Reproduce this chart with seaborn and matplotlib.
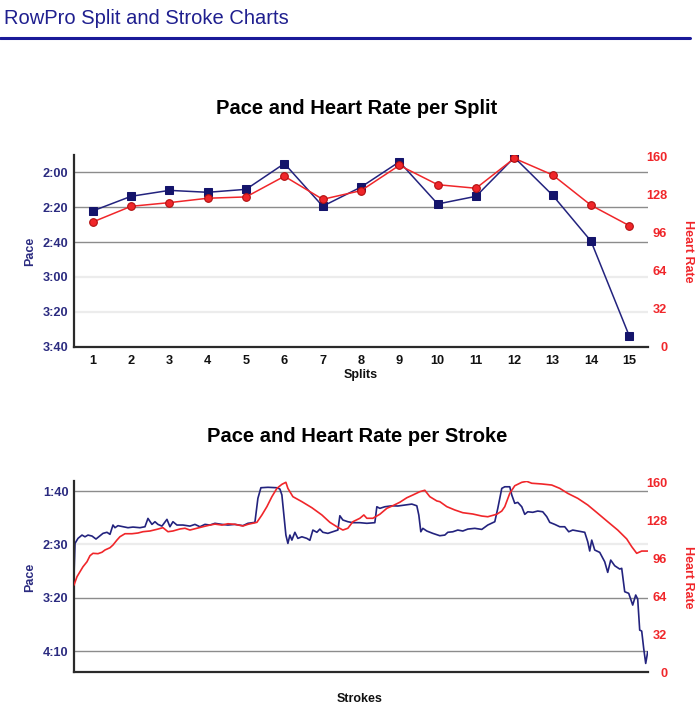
import numpy as np
import pandas as pd
import matplotlib
matplotlib.use("Agg")
import matplotlib.pyplot as plt
from matplotlib.lines import Line2D
import seaborn as sns

# ---------------- data ----------------
splits = list(range(1, 16))
split_pace = [142.1, 133.7, 130.3, 131.4, 129.7, 114.9, 139.4, 128.4, 113.9,
              138.1, 133.7, 111.4, 133.1, 159.4, 213.9]          # seconds / 500m
split_hr = [105.0, 118.2, 121.3, 125.0, 126.1, 143.5, 124.1, 131.4, 152.7,
            136.4, 133.4, 158.6, 144.6, 119.1, 101.9]

pace_ticks_split = [120, 140, 160, 180, 200, 220]
pace_ticks_stroke = [100, 150, 200, 250]
hr_ticks = [0, 32, 64, 96, 128, 160]

stroke_p = [0, 1, 4, 8, 11, 14, 18, 22, 26, 29, 33, 36, 39, 41, 44, 49, 54, 59, 66, 71,
            74, 78, 81, 84, 88, 93, 96, 99, 103, 109, 116, 121, 126, 131, 136, 141,
            148, 154, 161, 169, 174, 181, 184, 187, 194, 203, 206, 208, 210, 212, 214,
            216, 218, 221, 224, 228, 233, 236, 239, 243, 246, 249, 254, 259, 264, 266,
            269, 274, 279,
            286, 293, 301, 303, 306, 311, 318, 324, 331, 338, 343, 345, 347, 349, 353,
            359, 366, 371, 374, 379, 384, 389, 394, 401, 408, 414, 421, 424, 428, 431,
            436, 438, 441, 444, 448, 451, 454, 459, 464, 469, 473, 476, 481, 486, 491,
            495, 499, 504, 511, 514, 516, 518, 521, 526, 531, 534, 537, 541, 546, 548,
            551, 555, 559, 562, 564, 566, 568, 570, 572, 574]
pace_p = [178.6, 149.0, 144.3, 141.2, 142.8, 141.2, 142.1, 144.9, 141.8, 139.6, 138.6,
          140.5, 131.8, 134.3, 132.4, 133.4, 134.3, 133.7, 134.3, 133.4, 125.6, 131.2,
          128.7, 131.2, 132.8, 126.5, 133.4, 128.7, 131.8, 131.8, 132.8, 131.2, 133.4,
          131.2, 131.8, 130.2,
          131.2, 131.8, 131.2, 132.4, 130.2, 129.3, 106.8, 96.9, 96.5, 96.9, 98.1, 103.7,
          122.5, 141.2, 149.0, 141.2, 145.9, 138.6, 144.3, 142.8, 144.3, 146.1, 136.5,
          138.6, 135.6, 138.6, 139.6, 138.1, 136.5, 123.1, 127.1, 128.7, 129.6,
          129.6, 130.2, 129.6, 114.7, 116.2, 114.7, 113.8, 114.0, 113.1, 112.2, 113.8,
          122.5, 138.1, 134.9, 137.4, 139.6, 141.8, 141.2, 138.6, 138.1, 136.5, 137.4,
          135.6, 134.9, 135.9, 131.8, 128.7, 116.2, 97.5, 96.0,
          96.0, 103.7, 111.5, 110.6, 114.7, 121.8, 119.4, 119.9, 118.7, 119.4, 124.0,
          129.3, 131.2, 133.4, 133.4, 138.1, 136.5, 137.4, 138.6, 147.4, 156.1, 145.9,
          155.2, 157.4, 166.2, 176.1, 164.6, 169.9, 173.0, 172.3, 194.2, 195.7, 206.7,
          197.3, 201.1, 230.1, 231.0, 247.3, 261.3, 250.4]

stroke_h = [0, 3, 6, 9, 13, 16, 19, 24, 28, 31, 36, 39, 43, 46, 51, 58, 64, 69, 76, 83,
            89, 94, 99, 106, 111, 116, 123, 129, 136, 141,
            148, 154, 161, 169, 174, 183, 188, 193, 198, 203, 208, 212, 214, 219, 228,
            238, 248, 256, 263, 269, 274, 279,
            286, 290, 293, 299, 306, 313, 319, 326, 333, 339, 346, 351, 356, 363, 366,
            373, 381, 389, 399, 408, 414, 423, 428, 431,
            436, 441, 448, 453, 458, 468, 478, 486, 494, 504, 514, 524, 534, 544, 553,
            558, 563, 568, 574]
hr_h = [73.5, 80.5, 84.7, 88.9, 93.1, 98.2, 100.2, 99.9, 101.1, 103.0, 104.9, 107.2,
        111.4, 114.2, 116.7, 116.7, 117.3, 118.4, 119.0, 120.4, 121.8, 118.4, 119.0,
        120.7, 121.3, 119.8, 121.3, 122.6, 124.0, 124.8,
        124.0, 125.1, 124.6, 123.2, 124.6, 126.3, 132.5, 139.5, 147.9, 154.9, 158.3,
        160.0, 154.9, 147.9, 143.7, 138.6, 132.5, 126.3, 122.6, 119.8, 121.3, 126.8,
        129.7, 132.5, 129.7, 129.7, 133.1, 138.1, 140.3, 143.2, 147.0, 149.3, 152.1,
        153.3, 147.9, 144.3, 143.7, 139.5, 136.7, 134.4, 133.3, 131.6, 131.0, 133.1,
        135.8, 139.5,
        150.7, 157.1, 160.0, 160.8, 159.2, 158.6, 157.7, 154.9, 150.7, 146.5, 140.9,
        133.9, 126.8, 119.8, 112.3, 105.8, 100.2, 102.1, 102.1]

# ---------------- style ----------------
sns.set_theme(style="white")
plt.rcParams['font.family'] = ['Liberation Sans', 'DejaVu Sans']

NAVY = '#23237e'
NAVY_MK = '#14146b'
RED = '#f0262a'
RED_EDGE = '#b01010'
LABEL_NAVY = '#2b2b80'
GRID_DARK = '#8c8c8c'
GRID_LIGHT = '#ececec'
TICK_FS = 9.2
LAB_FS = 9


def fmt_pace(v):
    v = int(round(v))
    return f"{v // 60}:{v % 60:02d}"


W, H = 700, 710
fig = plt.figure(figsize=(7, 7.1), dpi=100)

def fx(px):
    return px / W

def fy(py):
    return 1 - py / H

ax1 = fig.add_axes([fx(74), fy(346.7), (647.7 - 74) / W, (346.7 - 155) / H])
ax3 = fig.add_axes([fx(74), fy(672.3), (647.7 - 74) / W, (672.3 - 481) / H])

# header
fig.text(fx(4), fy(19), "RowPro Split and Stroke Charts", fontsize=14.5,
         color='#1f1f8f', ha='left', va='center')
fig.add_artist(Line2D([0, fx(690)], [fy(38), fy(38)], color='#1a1a99', lw=2.2))

# titles
fig.text(fx(357), fy(108.5), "Pace and Heart Rate per Split", fontsize=14.5,
         weight='bold', ha='center', va='center', color='black')
fig.text(fx(357), fy(437), "Pace and Heart Rate per Stroke", fontsize=14.5,
         weight='bold', ha='center', va='center', color='black')


def style_axes(ax, pace_ticks, grid_colors, ylim):
    ax.set_ylim(*ylim)
    for t, c in zip(pace_ticks, grid_colors):
        ax.axhline(t, color=c, lw=1.0 if c == GRID_DARK else 1.6, zorder=0)
    ax.set_yticks(pace_ticks, labels=[fmt_pace(v) for v in pace_ticks],
                  fontweight='bold', color=LABEL_NAVY, fontsize=TICK_FS)
    ax.tick_params(axis='y', length=0, pad=4)
    for s in ['top', 'right']:
        ax.spines[s].set_visible(False)
    for s in ['left', 'bottom']:
        ax.spines[s].set_color('#2a2a2a')
        ax.spines[s].set_linewidth(1.6)
    ax.set_xlabel('')
    ax.set_ylabel('')


def style_twin(ax2, ylim):
    ax2.set_ylim(*ylim)
    ax2.set_yticks(hr_ticks, labels=[str(v) for v in hr_ticks], fontweight='bold',
                   color=RED, fontsize=TICK_FS, ha='right')
    ax2.tick_params(axis='y', length=0, pad=14)
    for s in ax2.spines.values():
        s.set_visible(False)
    ax2.set_ylabel('')
    ax2.set_xlabel('')
    ax2.grid(False)


# ---------- split chart ----------
sns.lineplot(x=splits, y=split_pace, ax=ax1, color=NAVY, lw=1.1, marker='s',
             markersize=5.5, markerfacecolor=NAVY_MK, markeredgecolor=NAVY_MK)
style_axes(ax1, pace_ticks_split,
           [GRID_DARK, GRID_DARK, GRID_DARK, GRID_LIGHT, GRID_LIGHT, GRID_DARK],
           (220, 110))
ax1.set_xlim(0.51, 15.48)
ax1.set_xticks(splits, labels=[str(s) for s in splits], fontweight='bold',
               color='#111111', fontsize=TICK_FS)
ax1.tick_params(axis='x', length=0, pad=6)

ax2 = ax1.twinx()
sns.lineplot(x=splits, y=split_hr, ax=ax2, color=RED, lw=1.1, marker='o',
             markersize=5.5, markerfacecolor=RED, markeredgecolor=RED_EDGE,
             markeredgewidth=0.8)
style_twin(ax2, (0, 161.4))

fig.text(fx(30), fy(251), "Pace", rotation=90, fontsize=LAB_FS, weight='bold',
         color=LABEL_NAVY, ha='center', va='center')
fig.text(fx(688), fy(251), "Heart Rate", rotation=270, fontsize=LAB_FS, weight='bold',
         color=RED, ha='center', va='center')
fig.text(fx(361), fy(375), "Splits", fontsize=LAB_FS, weight='bold',
         color='#111111', ha='center', va='center')

# ---------- stroke chart ----------
sns.lineplot(x=stroke_p, y=pace_p, ax=ax3, color=NAVY, lw=1.2)
style_axes(ax3, pace_ticks_stroke, [GRID_DARK, GRID_LIGHT, GRID_DARK, GRID_DARK],
           (269.6, 90.6))
ax3.set_xlim(0, 574)
ax3.set_xticks([])

ax4 = ax3.twinx()
sns.lineplot(x=stroke_h, y=hr_h, ax=ax4, color=RED, lw=1.2)
style_twin(ax4, (0, 161.1))

fig.text(fx(30), fy(577), "Pace", rotation=90, fontsize=LAB_FS, weight='bold',
         color=LABEL_NAVY, ha='center', va='center')
fig.text(fx(688), fy(577), "Heart Rate", rotation=270, fontsize=LAB_FS, weight='bold',
         color=RED, ha='center', va='center')
fig.text(fx(360), fy(699), "Strokes", fontsize=LAB_FS, weight='bold',
         color='#111111', ha='center', va='center')

fig.savefig("out.png", dpi=100, facecolor='white')
